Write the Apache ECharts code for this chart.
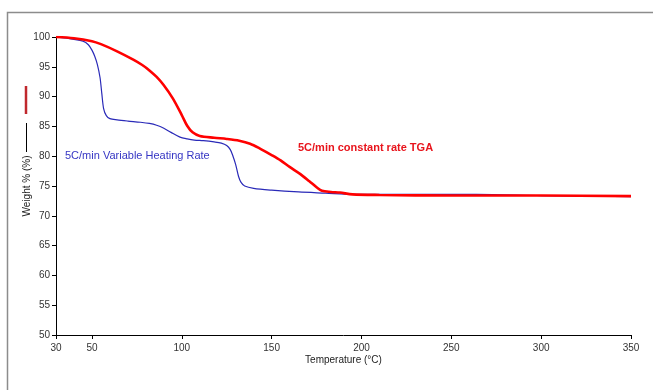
<!DOCTYPE html>
<html><head><meta charset="utf-8">
<script src="https://cdn.jsdelivr.net/npm/echarts@6/dist/echarts.min.js"></script>
<style>html,body{margin:0;padding:0;background:#fff}#c{width:653px;height:390px}</style>
</head><body><div id="c"></div>
<script>
// Temperature (°C) / Weight (%) pairs
const variableTemp = [30,40,45,48,50,51.5,53,54.5,55.5,56.5,58,60,64,70,77,82,86,90,94,99,103,107,112,118,122,125,127,128.5,130,131.6,133,135,140,150,165,180,195,210,264,300,333,350];
const variableWeight = [100,99.6,99.3,98.7,97.8,96.8,95.4,93.2,90.5,88.0,86.8,86.3,86.1,85.9,85.7,85.5,85.2,84.7,84.0,83.2,82.9,82.7,82.6,82.4,82.2,81.8,81.1,80.0,78.6,76.6,75.6,75.0,74.6,74.3,74.0,73.8,73.6,73.6,73.6,73.4,73.3,73.2];
const constantTemp = [30,40,50,55,64,73,78,82,86,90,95,100,103,106,110,118,125,132,138,144,150,155,160,166,171,175,178,183,188,195,210,250,300,350];
const constantWeight = [100,99.8,99.3,98.8,97.6,96.2,95.3,94.4,93.3,91.9,89.7,86.9,85.1,84.0,83.4,83.1,82.9,82.6,82.1,81.2,80.2,79.3,78.2,77.0,75.8,74.8,74.2,74.0,73.9,73.6,73.5,73.4,73.4,73.3];
const xTicks = [30,50,100,150,200,250,300,350];
const yMin = 50, yMax = 100, yStep = 5;
const labelVariable = '5C/min Variable Heating Rate';
const labelConstant = '5C/min constant rate TGA';
const xTitle = 'Temperature (°C)';
const yTitle = 'Weight % (%)';

const pairs = (a, b) => a.map((t, i) => [t, b[i]]);
const chart = echarts.init(document.getElementById('c'), null, {renderer: 'canvas'});
const font = 'Liberation Sans, Arial, sans-serif';
chart.setOption({
  animation: false,
  textStyle: {fontFamily: font},
  grid: {left: 56, right: 22, top: 37, bottom: 55},
  xAxis: {
    type: 'value', min: 30, max: 350,
    name: xTitle, nameLocation: 'middle', nameGap: 20, nameMoveOverlap: false,
    nameTextStyle: {fontSize: 10, color: '#222', fontFamily: font},
    axisLine: {lineStyle: {color: '#000', width: 1}},
    axisTick: {customValues: xTicks, length: 4, lineStyle: {color: '#000'}},
    axisLabel: {customValues: xTicks, fontSize: 10, color: '#333', margin: 8, fontFamily: font},
    splitLine: {show: false}
  },
  yAxis: {
    type: 'value', min: yMin, max: yMax, interval: yStep,
    name: yTitle, nameLocation: 'middle', nameGap: 24, nameMoveOverlap: false,
    nameTextStyle: {fontSize: 10, color: '#222', fontFamily: font},
    axisLine: {show: true, lineStyle: {color: '#000', width: 1}},
    axisTick: {show: true, length: 4, lineStyle: {color: '#000'}},
    axisLabel: {fontSize: 10, color: '#333', margin: 6, fontFamily: font},
    splitLine: {show: false}
  },
  series: [
    {type: 'line', name: labelVariable, data: pairs(variableTemp, variableWeight), showSymbol: false, smooth: 0.3,
     lineStyle: {color: '#2a2ab8', width: 1.2}, z: 2},
    {type: 'line', name: labelConstant, data: pairs(constantTemp, constantWeight), showSymbol: false, smooth: 0.3,
     lineStyle: {color: '#ff0000', width: 2.6}, z: 3}
  ],
  graphic: [
    {type: 'rect', shape: {x: 7.5, y: 12.5, width: 700, height: 500}, style: {fill: 'none', stroke: '#8c8c8c', lineWidth: 1.5}, silent: true},
    {type: 'line', shape: {x1: 26, y1: 86, x2: 26, y2: 114}, style: {stroke: '#c0282d', lineWidth: 2.5}},
    {type: 'line', shape: {x1: 26.5, y1: 123, x2: 26.5, y2: 152}, style: {stroke: '#000', lineWidth: 1}},
    {type: 'text', x: 65, y: 156, style: {text: labelVariable, fill: '#3636c4', font: '11px ' + font, verticalAlign: 'middle'}},
    {type: 'text', x: 298, y: 148, style: {text: labelConstant, fill: '#e8141c', font: 'bold 11px ' + font, verticalAlign: 'middle'}}
  ]
});
</script></body></html>
